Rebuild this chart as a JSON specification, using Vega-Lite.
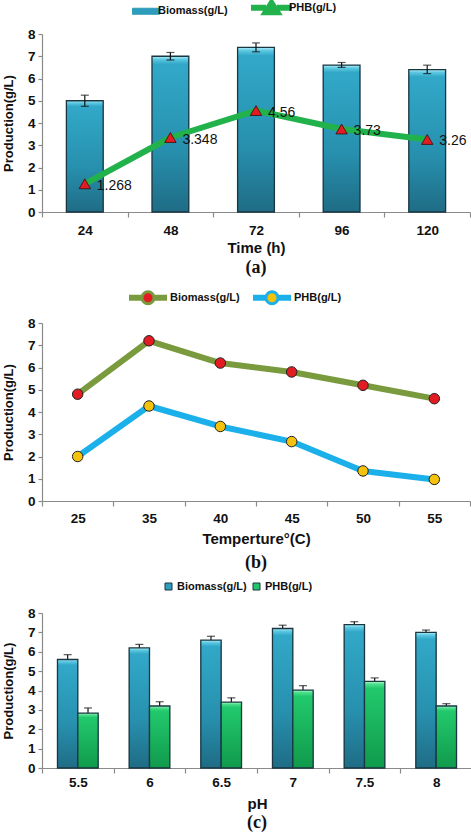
{
  "$schema": "https://vega.github.io/schema/vega-lite/v6.json",
  "background": "white",
  "padding": {"left": 2, "right": 1, "top": 2, "bottom": 0},
  "spacing": 9,
  "resolve": {
    "scale": {"color": "independent", "fill": "independent", "x": "independent", "y": "independent", "xOffset": "independent"},
    "legend": {"color": "independent", "fill": "independent"}
  },
  "config": {
    "font": "Liberation Sans",
    "view": {"stroke": null},
    "axis": {
      "grid": false,
      "labelFont": "Liberation Sans", "labelFontWeight": "bold", "labelFontSize": 13.5, "labelColor": "#111111",
      "titleFont": "Liberation Sans", "titleFontWeight": "bold", "titleFontSize": 13, "titleColor": "#111111",
      "domainColor": "#8a8a8a", "tickColor": "#8a8a8a", "domainWidth": 1.2, "tickWidth": 1.2
    },
    "axisY": {"tickSize": 4, "labelPadding": 3, "titlePadding": 12},
    "axisX": {"labelAngle": 0, "tickBand": "extent", "tickSize": 5, "labelPadding": 5, "titlePadding": 2, "titleFontSize": 15},
    "legend": {
      "orient": "none", "direction": "horizontal",
      "labelFont": "Liberation Sans", "labelFontWeight": "bold", "labelFontSize": 11, "labelColor": "#111111"
    },
    "title": {"font": "Liberation Serif", "fontWeight": "bold", "fontSize": 18, "color": "#111111", "orient": "bottom", "anchor": "middle", "offset": 2}
  },
  "vconcat": [
    {
      "width": 428, "height": 178,
      "title": {"text": "(a)", "offset": 3},
      "data": {"values": [
        {"time": "24", "biomass": 5.0, "lo": 4.75, "hi": 5.25, "phb": 1.268, "label": "1.268"},
        {"time": "48", "biomass": 7.0, "lo": 6.83, "hi": 7.17, "phb": 3.348, "label": "3.348"},
        {"time": "72", "biomass": 7.4, "lo": 7.2, "hi": 7.6, "phb": 4.56, "label": "4.56"},
        {"time": "96", "biomass": 6.6, "lo": 6.5, "hi": 6.72, "phb": 3.73, "label": "3.73"},
        {"time": "120", "biomass": 6.4, "lo": 6.22, "hi": 6.6, "phb": 3.26, "label": "3.26"}
      ]},
      "encoding": {
        "x": {"field": "time", "type": "ordinal", "sort": null,
              "scale": {"type": "band", "paddingInner": 0, "paddingOuter": 0},
              "axis": {"title": "Time (h)", "labelPadding": 6, "titlePadding": 4}}
      },
      "layer": [
        {
          "mark": {"type": "bar", "width": {"band": 0.43}},
          "encoding": {
            "y": {"field": "biomass", "type": "quantitative", "scale": {"domain": [0, 8]},
                  "axis": {"title": "Production(g/L)", "values": [0, 1, 2, 3, 4, 5, 6, 7, 8], "labelOverlap": false}},
            "color": {"datum": "Biomass(g/L)", "type": "nominal",
                      "scale": {"domain": ["Biomass(g/L)", "PHB(g/L)"], "range": ["#2e9cbb", "#21b24b"]},
                      "legend": {"title": null, "legendX": 102, "legendY": -32, "symbolSize": 400, "labelOffset": 3, "columnPadding": 18,
                        "encode": {"symbols": {"update": {
                          "shape": {"signal": "datum.value === 'PHB(g/L)' ? 'M-2.8,-0.15H-1.6V0.15H-2.8Z M-0.2,-0.15H1V0.15H-0.2Z M-0.9,-0.75L-0.05,0.6H-1.75Z' : 'M-1.7,-0.3H1V0.3H-1.7Z'"},
                          "fill": {"signal": "datum.value === 'PHB(g/L)' ? '#e31b23' : '#3aaed0'"},
                          "stroke": {"signal": "datum.value === 'PHB(g/L)' ? '#21b24b' : '#1a3640'"},
                          "strokeWidth": {"signal": "datum.value === 'PHB(g/L)' ? 3 : 1"},
                          "opacity": {"value": 1}
                        }}}}}
          }
        },
        {
          "mark": {"type": "bar", "width": {"band": 0.43}, "stroke": "#1a3640", "strokeWidth": 1.3,
                   "fill": {"gradient": "linear", "x1": 0, "y1": 0, "x2": 0, "y2": 1,
                            "stops": [{"offset": 0, "color": "#b0f0fa"}, {"offset": 0.02, "color": "#5cc8e2"}, {"offset": 0.05, "color": "#32a8c8"}, {"offset": 0.6, "color": "#2790ae"}, {"offset": 1, "color": "#1f6c85"}]}},
          "encoding": {"y": {"field": "biomass", "type": "quantitative", "axis": {"title": "Production(g/L)", "values": [0, 1, 2, 3, 4, 5, 6, 7, 8], "labelOverlap": false}}}
        },
        {
          "mark": {"type": "rule", "color": "#111111", "strokeWidth": 1.2},
          "encoding": {"y": {"field": "lo", "type": "quantitative", "axis": {"title": "Production(g/L)", "values": [0, 1, 2, 3, 4, 5, 6, 7, 8], "labelOverlap": false}}, "y2": {"field": "hi"}}
        },
        {
          "mark": {"type": "tick", "color": "#111111", "size": 8, "thickness": 1.2},
          "encoding": {"y": {"field": "lo", "type": "quantitative", "axis": {"title": "Production(g/L)", "values": [0, 1, 2, 3, 4, 5, 6, 7, 8], "labelOverlap": false}}}
        },
        {
          "mark": {"type": "tick", "color": "#111111", "size": 8, "thickness": 1.2},
          "encoding": {"y": {"field": "hi", "type": "quantitative", "axis": {"title": "Production(g/L)", "values": [0, 1, 2, 3, 4, 5, 6, 7, 8], "labelOverlap": false}}}
        },
        {
          "mark": {"type": "line", "strokeWidth": 6, "strokeCap": "butt", "strokeJoin": "round"},
          "encoding": {
            "y": {"field": "phb", "type": "quantitative", "axis": {"title": "Production(g/L)", "values": [0, 1, 2, 3, 4, 5, 6, 7, 8], "labelOverlap": false}},
            "color": {"datum": "PHB(g/L)", "type": "nominal"}
          }
        },
        {
          "mark": {"type": "text", "align": "left", "baseline": "middle", "dx": 12, "dy": 2, "fontSize": 14, "font": "Liberation Sans", "color": "#111111"},
          "encoding": {
            "y": {"field": "phb", "type": "quantitative", "axis": {"title": "Production(g/L)", "values": [0, 1, 2, 3, 4, 5, 6, 7, 8], "labelOverlap": false}},
            "text": {"field": "label", "type": "nominal"}
          }
        },
        {
          "mark": {"type": "point", "shape": "triangle-up", "size": 130, "filled": true, "fill": "#e31b23", "stroke": "#3a0a0a", "strokeWidth": 0.8, "opacity": 1},
          "encoding": {"y": {"field": "phb", "type": "quantitative", "axis": {"title": "Production(g/L)", "values": [0, 1, 2, 3, 4, 5, 6, 7, 8], "labelOverlap": false}}}
        }
      ]
    },
    {
      "width": 428, "height": 178,
      "title": {"text": "(b)", "offset": 7},
      "data": {"values": [
        {"temp": "25", "series": "Biomass(g/L)", "value": 4.8},
        {"temp": "35", "series": "Biomass(g/L)", "value": 7.2},
        {"temp": "40", "series": "Biomass(g/L)", "value": 6.2},
        {"temp": "45", "series": "Biomass(g/L)", "value": 5.8},
        {"temp": "50", "series": "Biomass(g/L)", "value": 5.2},
        {"temp": "55", "series": "Biomass(g/L)", "value": 4.6},
        {"temp": "25", "series": "PHB(g/L)", "value": 2.0},
        {"temp": "35", "series": "PHB(g/L)", "value": 4.27},
        {"temp": "40", "series": "PHB(g/L)", "value": 3.35},
        {"temp": "45", "series": "PHB(g/L)", "value": 2.67},
        {"temp": "50", "series": "PHB(g/L)", "value": 1.35},
        {"temp": "55", "series": "PHB(g/L)", "value": 0.97}
      ]},
      "encoding": {
        "x": {"field": "temp", "type": "ordinal", "sort": null,
              "scale": {"type": "band", "paddingInner": 0, "paddingOuter": 0},
              "axis": {"title": "Temperture°(C)", "labelPadding": 5, "titlePadding": 7}},
        "y": {"field": "value", "type": "quantitative", "scale": {"domain": [0, 8]},
              "axis": {"title": "Production(g/L)", "values": [0, 1, 2, 3, 4, 5, 6, 7, 8], "labelOverlap": false}}
      },
      "layer": [
        {
          "mark": {"type": "line", "strokeWidth": 6, "strokeCap": "butt", "strokeJoin": "round"},
          "encoding": {
            "color": {"field": "series", "type": "nominal",
                      "scale": {"domain": ["Biomass(g/L)", "PHB(g/L)"], "range": ["#7a9a3e", "#1cb0ea"]},
                      "legend": {"title": null, "legendX": 102, "legendY": -37, "symbolSize": 400, "labelOffset": 3, "columnPadding": 8,
                        "encode": {"symbols": {"update": {
                          "shape": {"value": "M-2.5,-0.15H-1.35V0.15H-2.5Z M-0.15,-0.15H1V0.15H-0.15Z M-0.15,0A0.6,0.6 0 1 1 -1.35,0A0.6,0.6 0 1 1 -0.15,0Z"},
                          "fill": {"signal": "datum.value === 'PHB(g/L)' ? '#f4c20d' : '#e31b23'"},
                          "stroke": {"signal": "datum.value === 'PHB(g/L)' ? '#1cb0ea' : '#7a9a3e'"},
                          "strokeWidth": {"value": 3},
                          "opacity": {"value": 1}
                        }}}}}
          }
        },
        {
          "mark": {"type": "point", "shape": "circle", "size": 110, "filled": true, "stroke": "#222222", "strokeWidth": 1, "opacity": 1},
          "encoding": {
            "fill": {"field": "series", "type": "nominal",
                     "scale": {"domain": ["Biomass(g/L)", "PHB(g/L)"], "range": ["#e31b23", "#f4c20d"]},
                     "legend": null}
          }
        }
      ]
    },
    {
      "width": 430, "height": 155,
      "title": {"text": "(c)", "offset": 2},
      "data": {"values": [
        {"ph": "5.5", "series": "Biomass(g/L)", "value": 5.6, "hi": 5.85},
        {"ph": "6", "series": "Biomass(g/L)", "value": 6.2, "hi": 6.38},
        {"ph": "6.5", "series": "Biomass(g/L)", "value": 6.6, "hi": 6.8},
        {"ph": "7", "series": "Biomass(g/L)", "value": 7.2, "hi": 7.37},
        {"ph": "7.5", "series": "Biomass(g/L)", "value": 7.4, "hi": 7.55},
        {"ph": "8", "series": "Biomass(g/L)", "value": 7.0, "hi": 7.12},
        {"ph": "5.5", "series": "PHB(g/L)", "value": 2.83, "hi": 3.1},
        {"ph": "6", "series": "PHB(g/L)", "value": 3.2, "hi": 3.42},
        {"ph": "6.5", "series": "PHB(g/L)", "value": 3.4, "hi": 3.62},
        {"ph": "7", "series": "PHB(g/L)", "value": 4.02, "hi": 4.25},
        {"ph": "7.5", "series": "PHB(g/L)", "value": 4.47, "hi": 4.65},
        {"ph": "8", "series": "PHB(g/L)", "value": 3.2, "hi": 3.32}
      ]},
      "encoding": {
        "x": {"field": "ph", "type": "ordinal", "sort": null,
              "scale": {"type": "band", "paddingInner": 0, "paddingOuter": 0},
              "axis": {"title": "pH", "labelPadding": 2, "titlePadding": 8}},
        "xOffset": {"field": "series", "type": "nominal", "scale": {"paddingInner": 0, "paddingOuter": 0.76}},
        "y": {"field": "value", "type": "quantitative", "scale": {"domain": [0, 8]},
              "axis": {"title": "Production(g/L)", "values": [0, 1, 2, 3, 4, 5, 6, 7, 8], "labelOverlap": false}}
      },
      "layer": [
        {
          "mark": {"type": "rule", "color": "#111111", "strokeWidth": 1.2},
          "encoding": {"y2": {"field": "hi"}}
        },
        {
          "mark": {"type": "tick", "color": "#111111", "size": 8, "thickness": 1.2},
          "encoding": {"y": {"field": "hi", "type": "quantitative", "axis": {"title": "Production(g/L)", "values": [0, 1, 2, 3, 4, 5, 6, 7, 8], "labelOverlap": false}}}
        },
        {
          "mark": {"type": "bar"},
          "encoding": {
            "color": {"field": "series", "type": "nominal",
                      "scale": {"domain": ["Biomass(g/L)", "PHB(g/L)"], "range": ["#2e9cbb", "#22c46a"]},
                      "legend": {"title": null, "legendX": 121, "legendY": -32, "symbolType": "square", "symbolSize": 49, "symbolStrokeColor": "#1a3640", "symbolStrokeWidth": 1, "symbolOpacity": 1, "labelOffset": 3, "columnPadding": 4, "labelFontSize": 11}}
          }
        },
        {
          "transform": [{"filter": "datum.series === 'Biomass(g/L)'"}],
          "mark": {"type": "bar", "stroke": "#1a3640", "strokeWidth": 1.3,
                   "fill": {"gradient": "linear", "x1": 0, "y1": 0, "x2": 0, "y2": 1,
                            "stops": [{"offset": 0, "color": "#b0f0fa"}, {"offset": 0.02, "color": "#5cc8e2"}, {"offset": 0.05, "color": "#32a8c8"}, {"offset": 0.6, "color": "#2790ae"}, {"offset": 1, "color": "#1f6c85"}]}}
        },
        {
          "transform": [{"filter": "datum.series === 'PHB(g/L)'"}],
          "mark": {"type": "bar", "stroke": "#1a3640", "strokeWidth": 1.3,
                   "fill": {"gradient": "linear", "x1": 0, "y1": 0, "x2": 0, "y2": 1,
                            "stops": [{"offset": 0, "color": "#b8fbd0"}, {"offset": 0.03, "color": "#4fe08e"}, {"offset": 0.08, "color": "#22c96c"}, {"offset": 1, "color": "#109a4c"}]}}
        }
      ]
    }
  ]
}
